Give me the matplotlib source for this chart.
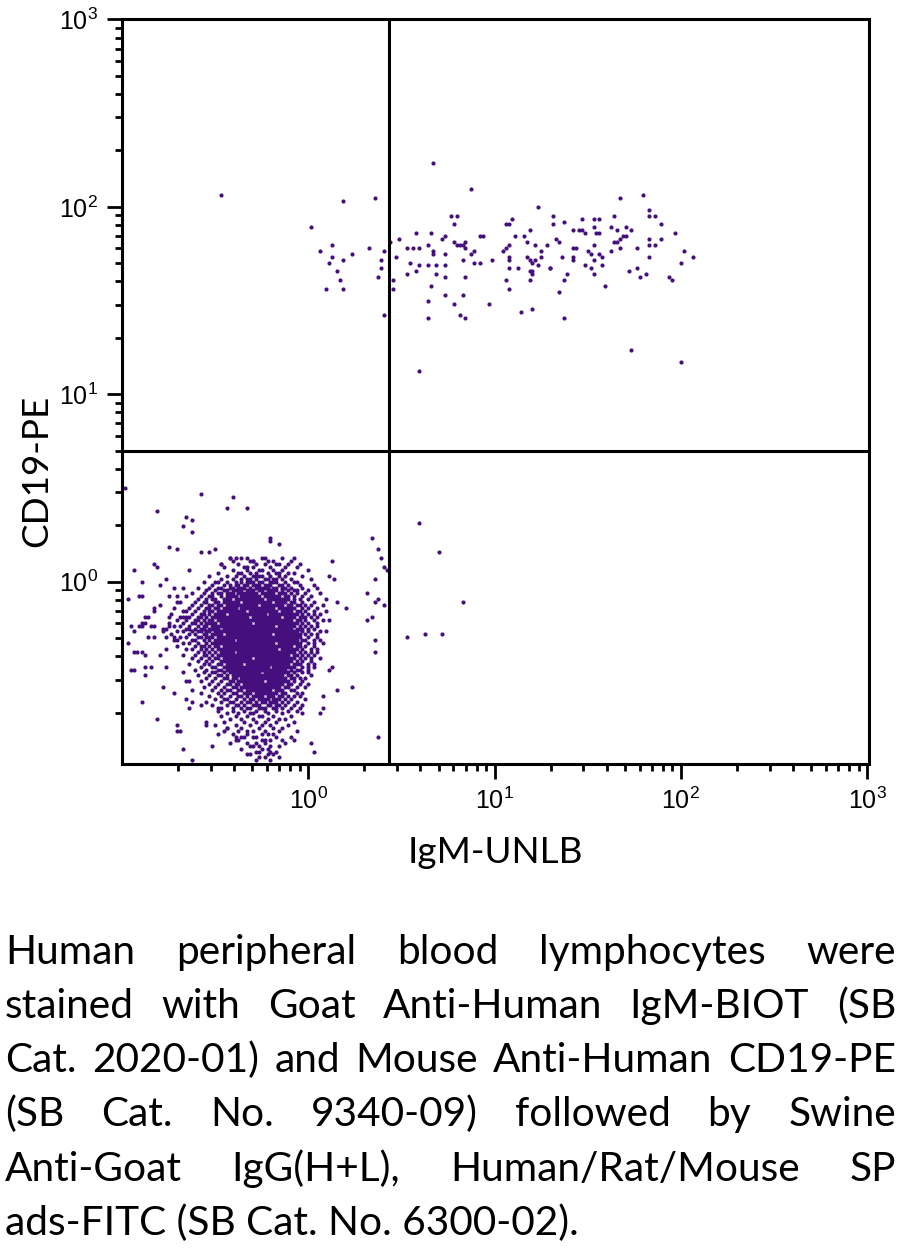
import numpy as np
import matplotlib
matplotlib.use("Agg")
import matplotlib.pyplot as plt
from matplotlib.ticker import FixedLocator, FixedFormatter, LogLocator, NullFormatter

# Events are given as channel numbers of the 256-channel, 4-decade log scale
# (channel 0 = 0.1, 64 channels per decade): (IgM channel, CD19 channel)
upper_left = [(34, 196), (76, 194), (87, 195), (65, 185), (72, 179), (68, 177), (85, 178),
              (90, 177), (72, 175), (79, 176), (76, 174), (71, 173), (89, 174), (74, 170),
              (89, 171), (75, 167), (88, 168), (70, 164), (76, 164), (90, 155)]

upper_right = [
    (107, 207), (120, 198), (143, 192), (113, 189), (115, 189), (114, 186), (132, 186), (133, 186),
    (134, 188), (101, 183), (106, 183), (111, 182), (110, 181), (123, 182), (124, 182), (135, 182),
    (138, 182), (140, 184), (92, 180), (95, 181), (114, 180), (115, 179), (116, 179), (117, 179),
    (118, 180), (139, 180), (142, 179), (146, 179), (105, 179), (98, 178), (100, 178), (102, 178),
    (107, 177), (107, 176), (118, 178), (121, 177), (120, 176), (132, 178), (131, 177), (133, 179),
    (144, 177), (111, 176), (94, 175), (117, 174), (121, 173), (123, 173), (127, 174), (133, 175),
    (133, 174), (139, 175), (140, 174), (141, 173), (142, 174), (144, 175), (99, 173), (102, 172),
    (105, 172), (108, 172), (111, 172), (143, 172), (147, 171), (101, 170), (98, 169), (108, 169),
    (111, 168), (118, 168), (133, 171), (136, 171), (140, 170), (141, 170), (141, 169), (93, 167),
    (132, 167), (140, 167), (106, 165), (93, 164), (133, 164), (111, 162), (117, 162), (105, 160),
    (114, 159), (126, 159), (116, 155), (118, 154), (105, 154), (137, 156), (141, 157), (102, 136),
    (171, 195), (179, 196), (148, 189), (148, 186), (152, 187), (158, 188), (162, 188), (164, 188),
    (169, 189), (181, 191), (181, 189), (183, 189), (185, 186), (155, 184), (157, 184), (158, 184),
    (159, 183), (162, 185), (163, 183), (164, 183), (168, 185), (170, 184), (173, 185), (175, 184),
    (190, 183), (172, 182), (173, 182), (171, 181), (170, 180), (169, 180), (149, 181), (150, 180),
    (155, 178), (156, 178), (162, 179), (171, 178), (168, 177), (181, 181), (185, 181), (181, 179),
    (183, 179), (177, 178), (160, 177), (161, 176), (164, 176), (165, 175), (151, 175), (155, 175),
    (155, 174), (162, 174), (181, 175), (193, 177), (196, 175), (192, 173), (147, 171), (159, 172),
    (161, 171), (165, 172), (162, 169), (153, 169), (152, 167), (174, 170), (177, 171), (178, 168),
    (180, 169), (188, 168), (189, 167), (166, 165), (150, 163), (152, 154), (175, 143), (192, 139)]

lower_right = [(102, 84), (109, 74), (117, 57), (98, 45), (104, 46), (110, 46)]

# scattered lower-left events around the main lymphocyte cloud
lower_left_sparse = [
    (86, 79), (88, 75), (89, 72), (90, 69), (91, 68), (87, 65), (84, 60), (88, 58), (87, 57),
    (90, 56), (86, 52), (84, 51), (87, 44), (87, 40), (88, 11), (79, 28), (74, 27), (72, 71),
    (71, 66), (73, 65), (74, 57), (77, 55), (71, 51), (70, 47), (72, 35), (71, 34), (69, 25),
    (69, 21), (68, 19), (65, 9), (66, 6), (54, 4), (47, 4),
    (1, 96), (27, 94), (38, 93), (36, 89), (43, 89), (12, 88), (22, 86), (24, 85), (21, 83),
    (24, 81), (51, 79), (51, 78), (54, 77), (16, 76), (19, 75), (27, 74), (30, 74), (32, 75),
    (4, 68), (11, 70), (12, 69), (23, 68), (7, 64), (15, 65), (13, 63), (2, 58), (6, 59), (7, 59),
    (11, 55), (8, 52), (7, 50), (7, 49), (3, 49), (4, 47), (2, 43), (4, 40), (7, 40), (4, 34),
    (8, 35), (10, 35), (14, 28), (7, 23), (12, 17), (19, 15), (20, 13), (21, 7), (24, 3), (18, 26),
    (22, 24), (23, 21), (27, 22), (29, 16), (32, 15), (33, 12), (31, 8), (36, 14), (35, 13),
    (37, 9), (41, 11), (43, 5), (46, 9), (47, 6), (55, 10), (59, 10), (52, 71), (59, 72), (57, 70),
    (39, 72), (43, 72), (45, 71), (37, 72), (34, 70),
    (16, 59), (18, 62), (21, 62), (19, 59), (19, 57), (21, 52), (22, 52), (16, 52), (16, 49),
    (11, 54), (13, 56), (9, 52), (8, 50), (6, 49), (10, 49), (11, 49), (14, 48), (14, 47), (9, 45),
    (11, 45), (15, 45), (18, 45), (19, 44), (5, 40), (8, 39), (13, 39), (15, 41), (3, 34), (15, 35),
    (8, 32), (21, 33), (22, 30), (23, 30), (24, 27), (19, 13), (24, 23), (27, 26), (29, 23),
    (33, 21), (29, 15), (39, 11), (40, 10), (43, 13), (44, 8), (45, 11), (47, 8), (48, 7), (49, 10),
    (50, 5), (51, 6), (48, 12)]

# dense lymphocyte cloud, one CD19 channel per row: (CD19 channel, IgM channels)
core_rows = [
    (72, [37, 41, 48, 49, 55]),
    (71, [38, 44, 45, 50, 58]),
    (70, [34, 40, 46, 49, 53, 54, 61]),
    (69, [35, 42, 43, 45, 51, 56, 60]),
    (68, [38, 43, 47, 48, 52, 55, 64]),
    (67, [33, 40, 41, 44, 46, 50, 53, 54, 57, 59]),
    (66, [30, 36, 39, 42, 45, 46, 47, 48, 51, 54, 56, 62]),
    (65, [34, 38, 41, 43, 44, 46, 49, 50, 52, 53, 55, 58, 65]),
    (64, [28, 32, 33, 36, 39, 41, 43, 44, 45, 47, 48, 51, 52, 53, 56, 59, 60]),
    (63, [31, 35, 37, 39, 40, 42, 43, 45, 46, 47, 49, 50, 51, 54, 55, 57, 61, 66]),
    (62, [26, 30, 33, 34, 37, 38, 40, 41, 42, 44, 46, 47, 48, 49, 50, 52, 53, 55, 56, 58, 62, 67]),
    (61, [29, 32, 35, 36, 38, 39, 40, 41, 43, 44, 45, 47, 48, 50, 51, 52, 53, 55, 57, 59, 60, 64]),
    (60, [24, 28, 31, 33, 34, 36, 37, 38, 40, 41, 42, 43, 44, 45, 46, 48, 49, 50, 51, 52, 54, 55,
          56, 58, 60, 63, 68]),
    (59, [22, 27, 30, 31, 34, 36, 37, 38, 39, 41, 42, 43, 44, 45, 46, 47, 49, 50, 51, 52, 53, 54,
          56, 57, 59, 62, 65]),
    (58, [26, 29, 31, 32, 35, 36, 37, 39, 40, 41, 42, 43, 44, 45, 46, 47, 48, 50, 51, 52, 53, 54,
          55, 56, 57, 59, 61, 64, 70]),
    (57, [20, 25, 28, 29, 32, 33, 35, 36, 37, 38, 39, 40, 42, 43, 44, 45, 46, 47, 48, 49, 50, 51,
          53, 54, 55, 56, 58, 59, 62, 66]),
    (56, [24, 27, 30, 31, 33, 34, 36, 37, 38, 39, 40, 41, 42, 43, 44, 45, 46, 48, 49, 50, 51, 52,
          53, 54, 55, 57, 58, 60, 61, 63, 65, 69]),
    (55, [18, 23, 26, 29, 30, 32, 33, 35, 36, 37, 38, 39, 41, 42, 43, 44, 45, 46, 47, 48, 49, 50,
          51, 52, 54, 55, 56, 57, 58, 59, 62, 64, 67]),
    (54, [21, 22, 25, 28, 30, 31, 33, 34, 35, 36, 37, 38, 39, 40, 41, 42, 44, 45, 46, 47, 48, 49,
          50, 51, 52, 53, 55, 56, 57, 58, 60, 61, 63, 66, 70]),
    (53, [17, 24, 27, 28, 30, 32, 33, 34, 35, 37, 38, 39, 40, 41, 42, 43, 44, 45, 46, 47, 48, 49,
          51, 52, 53, 54, 55, 56, 57, 58, 59, 60, 62, 64, 66, 68]),
    (52, [20, 23, 26, 27, 29, 31, 32, 33, 34, 35, 36, 37, 38, 39, 40, 41, 42, 43, 45, 46, 47, 48,
          49, 50, 51, 52, 53, 54, 56, 57, 58, 59, 61, 62, 63, 65, 67]),
    (51, [19, 22, 25, 26, 28, 30, 31, 33, 34, 35, 36, 37, 38, 39, 40, 41, 42, 43, 44, 45, 46, 47,
          48, 49, 50, 51, 52, 53, 54, 55, 56, 57, 58, 60, 61, 63, 66, 69]),
    (50, [16, 21, 24, 25, 27, 29, 30, 31, 32, 34, 35, 36, 37, 38, 39, 40, 41, 42, 43, 44, 46, 47,
          48, 49, 50, 51, 52, 53, 54, 55, 56, 57, 58, 59, 60, 62, 64, 67]),
    (49, [18, 20, 23, 26, 28, 29, 31, 32, 33, 34, 35, 36, 37, 38, 39, 40, 41, 42, 43, 44, 45, 46,
          47, 48, 49, 50, 51, 52, 54, 55, 56, 57, 58, 59, 61, 63, 65, 67]),
    (48, [15, 22, 23, 25, 27, 28, 30, 31, 32, 33, 35, 36, 37, 38, 39, 40, 41, 42, 43, 44, 45, 46,
          47, 48, 49, 50, 51, 52, 53, 54, 55, 56, 57, 58, 60, 61, 62, 64, 66]),
    (47, [19, 21, 24, 26, 27, 29, 30, 32, 33, 34, 35, 36, 37, 38, 39, 40, 41, 42, 43, 44, 45, 46,
          47, 48, 49, 50, 51, 52, 53, 54, 55, 56, 57, 58, 59, 60, 62, 64, 68]),
    (46, [17, 23, 25, 28, 29, 31, 32, 33, 34, 36, 37, 38, 39, 40, 41, 42, 43, 44, 45, 46, 47, 48,
          49, 50, 51, 53, 54, 55, 56, 57, 58, 59, 60, 61, 63, 65, 67]),
    (45, [20, 22, 26, 27, 29, 30, 31, 33, 34, 35, 36, 37, 38, 39, 40, 41, 42, 43, 44, 45, 46, 47,
          48, 49, 50, 51, 52, 53, 54, 55, 56, 57, 58, 59, 60, 61, 64, 67]),
    (44, [18, 24, 25, 28, 30, 32, 33, 34, 35, 36, 37, 38, 40, 41, 42, 43, 44, 45, 46, 47, 48, 49,
          50, 51, 52, 53, 54, 55, 56, 57, 58, 59, 60, 62, 63, 66, 68]),
    (43, [21, 23, 26, 29, 31, 32, 33, 34, 35, 36, 37, 38, 39, 40, 41, 42, 43, 44, 45, 46, 47, 48,
          49, 50, 51, 52, 54, 55, 56, 57, 58, 59, 60, 61, 64, 66, 69]),
    (42, [19, 25, 27, 28, 30, 32, 33, 35, 36, 37, 38, 39, 40, 41, 42, 43, 44, 45, 46, 47, 48, 49,
          50, 51, 52, 53, 54, 55, 56, 57, 58, 60, 61, 63, 66]),
    (41, [22, 24, 27, 29, 31, 33, 34, 35, 36, 37, 38, 39, 40, 41, 42, 43, 44, 45, 46, 47, 48, 49,
          50, 51, 52, 53, 55, 56, 57, 58, 59, 60, 62, 65, 67]),
    (40, [26, 28, 30, 32, 34, 35, 36, 37, 38, 40, 41, 42, 43, 44, 45, 46, 47, 48, 49, 50, 51, 52,
          53, 54, 55, 56, 57, 58, 59, 61, 63, 65, 67]),
    (39, [21, 25, 28, 29, 31, 33, 34, 35, 36, 37, 38, 39, 40, 41, 42, 43, 44, 45, 46, 47, 48, 49,
          50, 51, 52, 53, 54, 55, 56, 57, 59, 60, 62, 64, 66]),
    (38, [24, 27, 30, 32, 33, 35, 36, 37, 38, 39, 40, 41, 42, 43, 44, 46, 47, 48, 49, 50, 51, 52,
          53, 54, 55, 56, 57, 58, 59, 61, 63, 65, 68]),
    (37, [26, 29, 31, 34, 35, 36, 37, 38, 39, 40, 41, 42, 43, 44, 45, 46, 47, 48, 49, 50, 51, 52,
          53, 54, 55, 56, 57, 58, 60, 62, 65]),
    (36, [23, 28, 30, 33, 34, 36, 37, 38, 39, 40, 41, 43, 44, 45, 46, 47, 48, 49, 50, 51, 52, 53,
          54, 55, 56, 57, 59, 60, 61, 64, 66]),
    (35, [27, 31, 32, 35, 36, 37, 38, 39, 40, 41, 42, 43, 44, 45, 46, 47, 48, 49, 50, 52, 53, 54,
          55, 56, 57, 58, 59, 62, 64, 66]),
    (34, [25, 29, 33, 34, 36, 37, 38, 39, 40, 41, 42, 43, 44, 45, 46, 47, 48, 49, 50, 51, 52, 53,
          54, 55, 56, 58, 60, 61, 64]),
    (33, [28, 31, 32, 35, 37, 38, 39, 40, 41, 42, 43, 44, 45, 46, 47, 49, 50, 51, 52, 53, 54, 55,
          56, 57, 59, 62, 64]),
    (32, [26, 30, 33, 34, 36, 38, 39, 40, 41, 42, 43, 44, 45, 46, 47, 48, 49, 50, 51, 52, 53, 54,
          55, 57, 58, 60, 65]),
    (31, [29, 32, 35, 36, 38, 39, 41, 42, 43, 44, 45, 46, 47, 48, 49, 50, 51, 52, 53, 54, 55, 56,
          58, 59, 61, 63]),
    (30, [27, 31, 34, 37, 38, 40, 41, 42, 43, 44, 45, 46, 47, 48, 50, 51, 52, 53, 54, 55, 56, 57,
          59, 62]),
    (29, [30, 33, 36, 37, 39, 40, 42, 43, 44, 45, 46, 47, 48, 49, 50, 51, 52, 53, 54, 55, 57, 58,
          61, 64]),
    (28, [28, 32, 35, 38, 39, 41, 42, 43, 44, 45, 46, 47, 48, 49, 50, 51, 52, 53, 54, 56, 57, 60,
          63]),
    (27, [31, 34, 36, 37, 40, 41, 43, 44, 45, 46, 47, 48, 49, 50, 51, 53, 54, 55, 58, 59]),
    (26, [33, 35, 38, 39, 42, 43, 44, 46, 47, 48, 49, 50, 51, 52, 53, 55, 56, 60, 62]),
    (25, [30, 34, 37, 40, 41, 43, 45, 46, 47, 48, 50, 51, 52, 54, 55, 57, 59, 61]),
    (24, [32, 35, 36, 39, 42, 44, 45, 47, 48, 49, 50, 52, 53, 54, 56, 58, 63]),
    (23, [34, 37, 38, 41, 43, 44, 46, 48, 49, 51, 52, 53, 55, 57, 60]),
    (22, [31, 36, 39, 40, 42, 45, 46, 47, 50, 51, 53, 54, 56, 59, 62]),
    (21, [34, 38, 41, 43, 44, 47, 48, 49, 52, 53, 55, 58, 61]),
    (20, [33, 38, 42, 46, 49, 53, 57, 60]),
    (19, [36, 40, 44, 45, 50, 55, 62]),
    (18, [34, 39, 43, 47, 48, 52, 58]),
    (17, [37, 41, 45, 50, 54, 56]),
    (16, [35, 42, 46, 49, 53, 59]),
    (15, [39, 44, 48, 51, 57]),
    (14, [36, 41, 47, 52, 55]),
    (13, [40, 45, 49, 54, 60]),
    (12, [38, 43, 50, 52]),
    (11, [42, 46, 53, 58]),
    (10, [39, 48, 51]),
    (9, [43, 49, 56]),
    (8, [45, 51, 54]),
    (7, [41, 50]),
    (6, [46, 53]),
    (5, [44, 52]),
    (4, [49]),
    (3, [46, 51]),
]

quad_igm = 2.7     # quadrant marker positions
quad_cd19 = 5.0

x_label = "IgM-UNLB"
y_label = "CD19-PE"
major_ticks = [1, 10, 100, 1000]
major_labels = [r"$\mathregular{10^{0}}$", r"$\mathregular{10^{1}}$",
                r"$\mathregular{10^{2}}$", r"$\mathregular{10^{3}}$"]

caption_lines = [
    "Human peripheral blood lymphocytes were",
    "stained with Goat Anti-Human IgM-BIOT (SB",
    "Cat. 2020-01) and Mouse Anti-Human CD19-PE",
    "(SB Cat. No. 9340-09) followed by Swine",
    "Anti-Goat IgG(H+L), Human/Rat/Mouse SP",
    "ads-FITC (SB Cat. No. 6300-02).",
]

# ---------------------------------------------------------------------------
events = upper_left + upper_right + lower_right + lower_left_sparse
for cd19_ch, igm_chs in core_rows:
    events += [(c, cd19_ch) for c in igm_chs]
events = np.array(events, dtype=float)
igm = 10 ** (events[:, 0] / 64 - 1)
cd19 = 10 ** (events[:, 1] / 64 - 1)

plt.rcParams["font.family"] = ["Liberation Sans", "DejaVu Sans"]
label_font = ["Lato", "DejaVu Sans"]

W, H = 904, 1250
fig = plt.figure(figsize=(W / 100, H / 100), dpi=100)
ax = fig.add_axes([122 / W, 1 - 763.6 / H, (868.8 - 122) / W, (763.6 - 18.5) / H])
ax.set_xscale("log")
ax.set_yscale("log")

ax.scatter(igm, cd19, s=9, c="#45107e", linewidths=0, zorder=2)
ax.axvline(quad_igm, color="black", lw=2.2, zorder=3)
ax.axhline(quad_cd19, color="black", lw=2.2, zorder=3)

ax.set_xlim(0.1, 1020)
ax.set_ylim(0.107, 1012)

for axis in (ax.xaxis, ax.yaxis):
    axis.set_major_locator(FixedLocator(major_ticks))
    axis.set_major_formatter(FixedFormatter(major_labels))
    axis.set_minor_locator(LogLocator(base=10, subs=np.arange(2, 10), numticks=100))
    axis.set_minor_formatter(NullFormatter())
ax.tick_params(which="major", direction="out", length=11, width=2, labelsize=18, pad=6)
ax.tick_params(which="minor", direction="out", length=5, width=2)
for sp in ax.spines.values():
    sp.set_linewidth(2.2)

fig.canvas.draw()
renderer = fig.canvas.get_renderer()


def text_width(s, size):
    t = fig.text(0, 0, s, fontsize=size, family=label_font)
    w = t.get_window_extent(renderer).width
    t.remove()
    return w


# axis titles
lab_size = 30 * 175 / text_width(x_label, 30)
fig.text(408 / W, 1 - 863 / H, x_label, fontsize=lab_size, family=label_font,
         ha="left", va="baseline")
fig.text(37 / W, 1 - 395 / H, y_label, fontsize=lab_size, family=label_font,
         rotation=90, ha="right", va="center", rotation_mode="anchor")

# justified caption
left, right = 5, 896
cap_size = 28 * 573 / text_width(caption_lines[-1], 28)
baselines = [964, 1018, 1072, 1126, 1181, 1235]
for i, (line, yb) in enumerate(zip(caption_lines, baselines)):
    yf = 1 - yb / H
    if i == len(caption_lines) - 1:
        fig.text(left / W, yf, line, fontsize=cap_size, family=label_font,
                 ha="left", va="baseline")
        continue
    words = line.split()
    widths = [text_width(w, cap_size) for w in words]
    gap = (right - left - sum(widths)) / (len(words) - 1)
    x = left
    for w, wd in zip(words, widths):
        fig.text(x / W, yf, w, fontsize=cap_size, family=label_font,
                 ha="left", va="baseline")
        x += wd + gap

fig.savefig("out.png", dpi=100)
